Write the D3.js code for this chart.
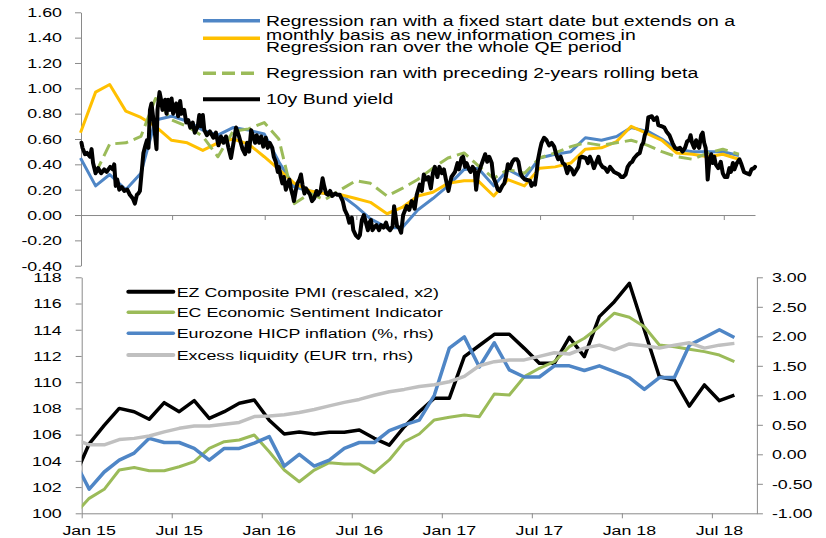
<!DOCTYPE html>
<html>
<head>
<meta charset="utf-8">
<script src="https://cdn.jsdelivr.net/npm/d3@7"></script>
<style>
  body { margin: 0; background: #fff; }
  svg { display: block; }
  text { font-family: "Liberation Sans", Arial, sans-serif; fill: #000; }
</style>
</head>
<body>
<div id="main"></div>
<script>
// ---- top panel: regression fits (month end) ----
const regDates = ["2014-12-31","2015-01-30","2015-02-27","2015-03-31","2015-04-30","2015-05-29","2015-06-30","2015-07-31",
  "2015-08-31","2015-09-30","2015-10-30","2015-11-30","2015-12-31","2016-01-29","2016-02-29","2016-03-31","2016-04-29",
  "2016-05-31","2016-06-30","2016-07-29","2016-08-31","2016-09-30","2016-10-31","2016-11-30","2016-12-30","2017-01-31",
  "2017-02-28","2017-03-31","2017-04-28","2017-05-31","2017-06-30","2017-07-31","2017-08-31","2017-09-29","2017-10-31",
  "2017-11-30","2017-12-29","2018-01-31","2018-02-28","2018-03-29","2018-04-30","2018-05-31","2018-06-29","2018-07-31"];
const regFixed = [0.45,0.23,0.32,0.20,0.33,0.75,0.78,0.74,0.67,0.63,0.69,0.67,0.64,0.42,0.22,0.19,0.17,0.16,0.07,-0.03,
  -0.10,-0.10,0.04,0.13,0.23,0.36,0.37,0.23,0.36,0.29,0.45,0.48,0.50,0.61,0.59,0.62,0.69,0.66,0.60,0.52,0.50,0.50,0.50,0.47];
const regWhole = [0.65,0.97,1.03,0.82,0.77,0.70,0.59,0.57,0.51,0.57,0.60,0.56,0.46,0.36,0.25,0.19,0.17,0.16,0.13,0.10,
  0.01,0.06,0.15,0.18,0.25,0.27,0.27,0.15,0.28,0.23,0.37,0.38,0.41,0.52,0.53,0.58,0.70,0.64,0.59,0.49,0.48,0.46,0.48,0.44];
const regRolling = [null,0.33,0.56,0.57,0.62,0.92,0.75,0.70,0.62,0.46,0.66,0.68,0.73,0.60,0.09,0.17,0.12,0.20,0.27,0.25,
  0.15,0.21,0.28,0.37,0.45,0.49,0.39,0.29,0.36,0.33,0.45,0.49,0.54,0.57,0.55,0.57,0.59,0.55,0.50,0.46,0.44,0.49,0.52,0.48];

// ---- top panel: 10y Bund yield ----
const bundDates = ["2015-01-02","2015-01-04","2015-01-09","2015-01-13","2015-01-19","2015-01-22","2015-01-25","2015-01-30",
  "2015-02-04","2015-02-10","2015-02-16","2015-02-21","2015-02-28","2015-03-05","2015-03-08","2015-03-11","2015-03-14",
  "2015-03-18","2015-03-23","2015-03-28","2015-04-03","2015-04-08","2015-04-14","2015-04-18","2015-04-22","2015-04-25",
  "2015-04-28","2015-05-02","2015-05-05","2015-05-09","2015-05-12","2015-05-15","2015-05-18","2015-05-21","2015-05-25",
  "2015-05-31","2015-06-02","2015-06-06","2015-06-09","2015-06-12","2015-06-17","2015-06-20","2015-06-23","2015-06-27",
  "2015-06-30","2015-07-03","2015-07-09","2015-07-13","2015-07-17","2015-07-20","2015-07-25","2015-07-29","2015-08-02",
  "2015-08-06","2015-08-11","2015-08-15","2015-08-21","2015-08-24","2015-08-27","2015-08-31","2015-09-03","2015-09-08",
  "2015-09-14","2015-09-21","2015-09-26","2015-10-01","2015-10-06","2015-10-11","2015-10-16","2015-10-21","2015-10-26",
  "2015-10-31","2015-11-05","2015-11-11","2015-11-13","2015-11-18","2015-11-23","2015-11-27","2015-12-01","2015-12-05",
  "2015-12-13","2015-12-16","2015-12-21","2015-12-25","2015-12-29","2016-01-03","2016-01-07","2016-01-11","2016-01-16",
  "2016-01-19","2016-01-23","2016-01-27","2016-01-29","2016-02-02","2016-02-05","2016-02-08","2016-02-12","2016-02-15",
  "2016-02-19","2016-02-22","2016-02-26","2016-02-28","2016-03-03","2016-03-06","2016-03-10","2016-03-13","2016-03-16",
  "2016-03-20","2016-03-23","2016-03-26","2016-03-31","2016-04-04","2016-04-08","2016-04-13","2016-04-16","2016-04-21",
  "2016-04-25","2016-04-28","2016-05-02","2016-05-06","2016-05-10","2016-05-14","2016-05-20","2016-05-24","2016-05-29",
  "2016-06-04","2016-06-08","2016-06-13","2016-06-17","2016-06-22","2016-06-25","2016-06-30","2016-07-05","2016-07-08",
  "2016-07-12","2016-07-16","2016-07-20","2016-07-24","2016-07-27","2016-07-30","2016-08-02","2016-08-07","2016-08-10",
  "2016-08-15","2016-08-19","2016-08-24","2016-08-29","2016-09-01","2016-09-06","2016-09-11","2016-09-14","2016-09-17",
  "2016-09-20","2016-09-24","2016-09-28","2016-10-02","2016-10-09","2016-10-14","2016-10-19","2016-10-25","2016-10-29",
  "2016-11-04","2016-11-08","2016-11-12","2016-11-16","2016-11-21","2016-11-26","2016-11-30","2016-12-04","2016-12-09",
  "2016-12-13","2016-12-18","2016-12-22","2016-12-26","2016-12-31","2017-01-03","2017-01-06","2017-01-13","2017-01-18",
  "2017-01-21","2017-01-26","2017-01-29","2017-02-02","2017-02-05","2017-02-10","2017-02-13","2017-02-17","2017-02-21",
  "2017-02-24","2017-02-28","2017-03-04","2017-03-14","2017-03-18","2017-03-22","2017-03-27","2017-03-30","2017-04-04",
  "2017-04-08","2017-04-12","2017-04-17","2017-04-21","2017-04-24","2017-04-28","2017-05-02","2017-05-07","2017-05-11",
  "2017-05-16","2017-05-19","2017-05-23","2017-05-27","2017-06-01","2017-06-11","2017-06-14","2017-06-17","2017-06-21",
  "2017-06-24","2017-06-27","2017-07-01","2017-07-04","2017-07-09","2017-07-14","2017-07-19","2017-07-24","2017-07-29",
  "2017-08-02","2017-08-06","2017-08-11","2017-08-15","2017-08-19","2017-08-24","2017-08-28","2017-09-02","2017-09-06",
  "2017-09-15","2017-09-18","2017-09-22","2017-09-30","2017-10-04","2017-10-08","2017-10-13","2017-10-16","2017-10-20",
  "2017-10-25","2017-10-28","2017-11-02","2017-11-07","2017-11-12","2017-11-17","2017-11-25","2017-11-30","2017-12-05",
  "2017-12-09","2017-12-13","2017-12-18","2017-12-22","2017-12-27","2017-12-31","2018-01-04","2018-01-11","2018-01-15",
  "2018-01-19","2018-01-22","2018-01-25","2018-01-29","2018-02-01","2018-02-08","2018-02-12","2018-02-18","2018-02-21",
  "2018-02-28","2018-03-05","2018-03-09","2018-03-15","2018-03-21","2018-03-26","2018-03-31","2018-04-05","2018-04-10",
  "2018-04-15","2018-04-19","2018-04-23","2018-04-26","2018-04-29","2018-05-03","2018-05-07","2018-05-10","2018-05-13",
  "2018-05-17","2018-05-20","2018-05-23","2018-05-26","2018-05-28","2018-05-30","2018-06-02","2018-06-06","2018-06-09",
  "2018-06-12","2018-06-15","2018-06-20","2018-06-25","2018-06-29","2018-07-03","2018-07-08","2018-07-12","2018-07-15",
  "2018-07-19","2018-07-22","2018-07-27","2018-08-01","2018-08-05","2018-08-10","2018-08-15","2018-08-21","2018-08-25",
  "2018-08-30","2018-09-01"];
const bundYield = [0.57,0.53,0.48,0.49,0.46,0.52,0.41,0.33,
  0.37,0.33,0.36,0.34,0.38,0.36,0.40,0.23,0.28,
  0.20,0.22,0.19,0.20,0.16,0.13,0.09,0.16,0.17,
  0.19,0.36,0.49,0.55,0.59,0.53,0.83,0.88,0.75,
  0.52,0.83,0.97,0.91,0.83,0.91,0.80,0.91,0.83,
  0.92,0.80,0.88,0.78,0.90,0.80,0.83,0.73,0.75,
  0.69,0.73,0.65,0.70,0.79,0.70,0.79,0.67,0.63,
  0.66,0.61,0.65,0.55,0.62,0.57,0.62,0.53,0.45,
  0.57,0.69,0.62,0.59,0.52,0.48,0.57,0.50,0.67,
  0.57,0.63,0.57,0.62,0.54,0.61,0.53,0.57,0.53,
  0.46,0.42,0.34,0.38,0.30,0.25,0.30,0.20,0.24,
  0.28,0.21,0.15,0.11,0.20,0.25,0.28,0.32,0.24,
  0.17,0.21,0.19,0.16,0.11,0.13,0.19,0.16,0.19,
  0.29,0.23,0.17,0.16,0.19,0.15,0.17,0.16,0.16,
  0.11,0.04,0.00,-0.06,-0.02,-0.12,-0.16,-0.18,-0.16,
  -0.04,0.00,-0.06,-0.12,-0.06,-0.04,-0.12,-0.09,-0.08,
  -0.12,-0.08,-0.10,-0.06,-0.10,-0.12,-0.09,0.07,-0.01,
  -0.09,-0.10,-0.14,0.00,0.07,0.04,0.11,0.05,0.16,
  0.24,0.19,0.32,0.28,0.30,0.21,0.33,0.38,0.30,
  0.38,0.33,0.36,0.28,0.19,0.25,0.30,0.34,0.41,
  0.36,0.45,0.46,0.38,0.41,0.36,0.34,0.38,0.36,
  0.20,0.33,0.37,0.48,0.42,0.46,0.41,0.30,0.25,
  0.20,0.19,0.23,0.25,0.30,0.40,0.37,0.42,0.44,
  0.44,0.42,0.33,0.30,0.28,0.27,0.23,0.25,0.24,
  0.33,0.44,0.52,0.57,0.61,0.59,0.55,0.57,0.54,
  0.48,0.44,0.46,0.41,0.40,0.33,0.38,0.36,0.32,
  0.38,0.45,0.46,0.45,0.41,0.46,0.41,0.37,0.41,
  0.46,0.41,0.38,0.37,0.34,0.38,0.34,0.33,0.32,
  0.30,0.30,0.32,0.38,0.41,0.42,0.45,0.48,0.49,
  0.55,0.57,0.63,0.67,0.77,0.78,0.75,0.77,0.71,
  0.70,0.69,0.66,0.63,0.57,0.53,0.52,0.53,0.50,
  0.53,0.58,0.59,0.63,0.57,0.53,0.59,0.55,0.53,
  0.63,0.65,0.57,0.53,0.44,0.28,0.41,0.48,0.41,
  0.46,0.40,0.37,0.42,0.33,0.30,0.30,0.37,0.34,
  0.41,0.36,0.41,0.44,0.40,0.34,0.33,0.32,0.36,
  0.37,0.38];

const topNames = ["Regression ran with a fixed start date but extends on a\nmonthly basis as new information comes in",
  "Regression ran over the whole QE period",
  "Regression ran with preceding 2-years rolling beta",
  "10y Bund yield"];
const topTicks = [-0.4,-0.2,0,0.2,0.4,0.6,0.8,1.0,1.2,1.4,1.6];

// ---- bottom panel: monthly macro data ----
const months = ["2014-12","2015-01","2015-02","2015-03","2015-04","2015-05","2015-06","2015-07","2015-08","2015-09",
  "2015-10","2015-11","2015-12","2016-01","2016-02","2016-03","2016-04","2016-05","2016-06","2016-07","2016-08",
  "2016-09","2016-10","2016-11","2016-12","2017-01","2017-02","2017-03","2017-04","2017-05","2017-06","2017-07",
  "2017-08","2017-09","2017-10","2017-11","2017-12","2018-01","2018-02","2018-03","2018-04","2018-05","2018-06",
  "2018-07","2018-08"];
const pmi = [102.7,105.3,106.7,108.0,107.75,107.17,108.44,107.75,108.59,107.24,107.75,108.39,108.64,
  107.1,106.05,106.2,106.05,106.18,106.18,106.35,105.72,105.2,106.6,107.75,108.77,
  108.77,111.95,112.8,113.65,113.65,112.58,111.44,111.44,113.42,111.95,115.0,116.14,
  117.54,113.98,110.42,110.17,108.18,109.79,108.59,109.02];
const esi = [99.9,101.14,101.83,103.3,103.5,103.25,103.25,103.55,103.94,104.96,105.46,105.59,105.97,
  104.7,103.3,102.41,103.3,103.86,103.76,103.76,103.1,104.07,105.46,106.05,107.12,
  107.32,107.5,107.37,109.1,109.02,110.42,111.06,111.56,112.71,113.35,114.23,115.26,
  114.95,114.23,112.84,112.71,112.51,112.33,112.07,111.56];
const hicp = [-0.1,-0.59,-0.30,-0.10,0.02,0.27,0.20,0.20,0.10,-0.10,0.10,0.10,0.19,
  0.30,-0.20,0.00,-0.20,-0.10,0.10,0.20,0.20,0.40,0.50,0.58,1.00,
  1.80,1.99,1.48,1.89,1.43,1.31,1.31,1.50,1.50,1.42,1.50,1.40,
  1.30,1.10,1.30,1.30,1.85,1.98,2.11,1.98];
const liquidity = [0.26,0.16,0.16,0.25,0.27,0.31,0.38,0.44,0.48,0.48,0.51,0.54,0.64,
  0.65,0.67,0.71,0.76,0.82,0.88,0.93,1.00,1.06,1.10,1.15,1.18,
  1.23,1.32,1.50,1.57,1.60,1.60,1.66,1.72,1.70,1.80,1.85,1.77,
  1.87,1.84,1.80,1.85,1.89,1.80,1.85,1.88];

const bottomNames = ["EZ Composite PMI (rescaled, x2)", "EC Economic Sentiment Indicator",
  "Eurozone HICP inflation (%, rhs)", "Excess liquidity (EUR trn, rhs)"];
const leftTicks = [100,102,104,106,108,110,112,114,116,118];
const rightTicks = [-1,-0.5,0,0.5,1,1.5,2,2.5,3];
const xLabels = ["Jan 15","Jul 15","Jan 16","Jul 16","Jan 17","Jul 17","Jan 18","Jul 18"];

// ---- drawing ----
const width = 826, height = 538;
const wide = 1.32;          // original glyphs are stretched horizontally
const axisGrey = "#8a8a8a";
const blue = "#4f86c6", yellow = "#ffc000", green = "#9bbb59", grey = "#c0c0c0";

const parseDay = d3.timeParse("%Y-%m-%d");
const monthIndex = s => (+s.slice(0, 4) - 2015) * 12 + (+s.slice(5, 7) - 1);

const svg = d3.create("svg").attr("width", width).attr("height", height)
  .attr("viewBox", [0, 0, width, height]);

const xTop = d3.scaleTime()
  .domain([parseDay("2015-01-01"), parseDay("2018-09-01")])
  .range([81, 755]);
const yTop = d3.scaleLinear().domain([-0.4, 1.6]).range([265.7, 12.3]);

const xBot = d3.scaleLinear().domain([0, 45]).range([81.7, 756.9]);
const yLeft = d3.scaleLinear().domain([100, 118]).range([513.3, 277.3]);
const yRight = d3.scaleLinear().domain([-1, 3]).range([513.3, 277.3]);

const styleAxis = g => {
  g.attr("font-family", null).attr("font-size", null);
  g.select(".domain").attr("stroke", axisGrey);
  g.selectAll(".tick line").attr("stroke", axisGrey);
};

function wideText(parent, x, y, str, size, anchor) {
  return parent.append("text")
    .attr("transform", `translate(${x},${y}) scale(${wide},1)`)
    .attr("text-anchor", anchor || "start")
    .style("font-size", size + "px")
    .text(str);
}

// top axes
svg.append("g")
  .attr("transform", "translate(81,0)")
  .call(d3.axisLeft(yTop).tickValues(topTicks).tickFormat(d => d.toFixed(2)).tickSize(6).tickSizeOuter(0))
  .call(styleAxis)
  .call(g => g.selectAll(".tick text")
    .attr("x", -19 / wide).attr("transform", `scale(${wide},1)`).style("font-size", "13.5px"));

svg.append("g")
  .attr("transform", `translate(0,${yTop(0)})`)
  .call(d3.axisBottom(xTop)
    .tickValues(d3.timeMonth.every(6).range(parseDay("2015-07-01"), parseDay("2018-08-01")))
    .tickFormat("").tickSize(5).tickSizeOuter(0))
  .call(styleAxis);

// top series
const regLine = d3.line()
  .defined(d => d[1] != null)
  .x(d => xTop(d[0]))
  .y(d => yTop(d[1]));
const regSeries = [
  {vals: regFixed, color: blue, dash: null},
  {vals: regWhole, color: yellow, dash: null},
  {vals: regRolling, color: green, dash: "13,6"}
];
regSeries.forEach(s => {
  svg.append("path")
    .datum(regDates.map((d, i) => [parseDay(d), s.vals[i]]))
    .attr("fill", "none")
    .attr("stroke", s.color)
    .attr("stroke-width", 3)
    .attr("stroke-dasharray", s.dash)
    .attr("stroke-linejoin", "round")
    .attr("d", regLine);
});
svg.append("path")
  .datum(bundDates.map((d, i) => [parseDay(d), bundYield[i]]))
  .attr("fill", "none")
  .attr("stroke", "#000")
  .attr("stroke-width", 4)
  .attr("stroke-linejoin", "round")
  .attr("stroke-linecap", "round")
  .attr("d", regLine);

// top legend
const topLegend = svg.append("g");
const topColors = [blue, yellow, green, "#000"];
const topLineY = [20.7, 38.3, 73.3, 99.3];
const topTextY = [25.7, 51.7, 78.3, 104];
topNames.forEach((name, i) => {
  topLegend.append("line")
    .attr("x1", 203).attr("x2", 260)
    .attr("y1", topLineY[i]).attr("y2", topLineY[i])
    .attr("stroke", topColors[i])
    .attr("stroke-width", i === 3 ? 4 : 3.5)
    .attr("stroke-dasharray", i === 2 ? "13,6" : null);
  name.split("\n").forEach((part, j) => {
    wideText(topLegend, 266, topTextY[i] + j * 14.3, part, 14.7);
  });
});

// bottom axes
svg.append("g")
  .attr("transform", "translate(81.7,0)")
  .call(d3.axisLeft(yLeft).tickValues(leftTicks).tickFormat(d3.format("d")).tickSize(6).tickSizeOuter(0))
  .call(styleAxis)
  .call(g => g.selectAll(".tick text")
    .attr("x", -20 / wide).attr("transform", `scale(${wide},1)`).style("font-size", "13.5px"));

svg.append("g")
  .attr("transform", `translate(${xBot(45)},0)`)
  .call(d3.axisRight(yRight).tickValues(rightTicks).tickFormat(d => d.toFixed(2)).tickSize(6).tickSizeOuter(0))
  .call(styleAxis)
  .call(g => g.selectAll(".tick text")
    .attr("x", 15 / wide).attr("transform", `scale(${wide},1)`).style("font-size", "13.5px"));

svg.append("g")
  .attr("transform", `translate(0,${yLeft(100)})`)
  .call(d3.axisBottom(xBot).tickValues(d3.range(0, 43, 6)).tickFormat("").tickSize(5).tickSizeOuter(0))
  .call(styleAxis);

const xLab = svg.append("g");
xLabels.forEach((lab, i) => wideText(xLab, xBot(i * 6 + 0.5), 535, lab, 13.5, "middle"));

// bottom series (clipped to plot area)
svg.append("clipPath").attr("id", "clipBot")
  .append("rect")
  .attr("x", xBot(0)).attr("y", yLeft(118))
  .attr("width", xBot(45) - xBot(0)).attr("height", yLeft(100) - yLeft(118));

const plotBot = svg.append("g").attr("clip-path", "url(#clipBot)");
const botSeries = [
  {vals: pmi, y: yLeft, color: "#000", w: 3.5},
  {vals: esi, y: yLeft, color: green, w: 3},
  {vals: hicp, y: yRight, color: blue, w: 3.5},
  {vals: liquidity, y: yRight, color: grey, w: 3.5}
];
botSeries.forEach(s => {
  const line = d3.line()
    .x((d, i) => xBot(monthIndex(months[i]) + 0.5))
    .y(d => s.y(d));
  plotBot.append("path")
    .datum(s.vals)
    .attr("fill", "none")
    .attr("stroke", s.color)
    .attr("stroke-width", s.w)
    .attr("stroke-linejoin", "round")
    .attr("d", line);
});

// bottom legend
const botLegend = svg.append("g");
const botLineY = [291.7, 312.3, 333.3, 355];
bottomNames.forEach((name, i) => {
  botLegend.append("line")
    .attr("x1", 128.3).attr("x2", 173.3)
    .attr("y1", botLineY[i]).attr("y2", botLineY[i])
    .attr("stroke", botSeries[i].color)
    .attr("stroke-width", i === 0 || i === 3 ? 4 : 3.5)
    .attr("stroke-linecap", "round");
  wideText(botLegend, 176.7, botLineY[i] + 5, name, 13.5);
});

d3.select("#main").append(() => svg.node());
</script>
</body>
</html>
